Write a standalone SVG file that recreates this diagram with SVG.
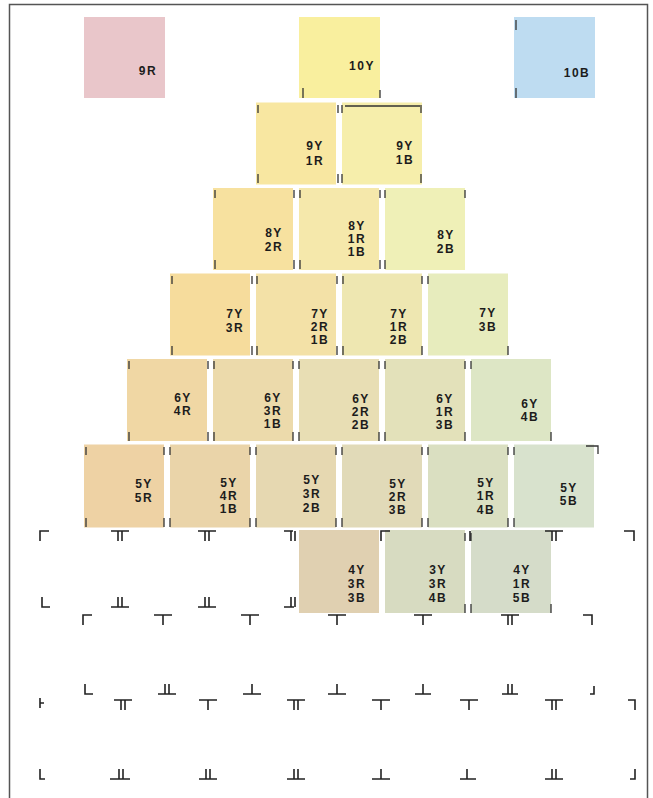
<svg xmlns="http://www.w3.org/2000/svg" width="653" height="798" viewBox="0 0 653 798">
<style>
.sw{stroke:none}
.lb{font-family:"Liberation Sans",Arial,sans-serif;font-weight:bold;font-size:12px;fill:#1c1c1c;text-anchor:middle;letter-spacing:1.5px}
.tk{stroke:#333;stroke-width:1.3;fill:none}
.mk{stroke:#222;stroke-width:1.6;fill:none}
.fr{fill:none;stroke:#555;stroke-width:1.5}
</style>
<rect width="653" height="798" fill="#ffffff"/>
<rect class="fr" x="9.5" y="4.5" width="638" height="820"/>

<!-- Row 0 -->
<g id="s-9R"><rect class="sw" x="84" y="17" width="81" height="81" fill="#e9c6ca"/><text class="lb" x="148" y="75">9R</text></g>
<g id="s-10Y"><rect class="sw" x="299" y="17" width="81" height="81" fill="#f9ef9e"/><text class="lb" x="362" y="70">10Y</text></g>
<g id="s-10B"><rect class="sw" x="514" y="17" width="81" height="81" fill="#bedcf1"/><text class="lb" x="577" y="77">10B</text></g>

<!-- Row 1 -->
<g id="s-9Y1R"><rect class="sw" x="256" y="102.5" width="80" height="82" fill="#f8e7a1"/><text class="lb" x="315" y="150">9Y</text><text class="lb" x="315" y="165">1R</text></g>
<g id="s-9Y1B"><rect class="sw" x="342" y="102.5" width="80" height="82" fill="#f6eeab"/><text class="lb" x="405" y="150">9Y</text><text class="lb" x="405" y="164">1B</text></g>

<!-- Row 2 -->
<g id="s-8Y2R"><rect class="sw" x="213" y="188" width="80" height="82" fill="#f7e19f"/><text class="lb" x="274" y="237">8Y</text><text class="lb" x="274" y="251">2R</text></g>
<g id="s-8Y1R1B"><rect class="sw" x="299" y="188" width="80" height="82" fill="#f5e8ab"/><text class="lb" x="357" y="230">8Y</text><text class="lb" x="357" y="243">1R</text><text class="lb" x="357" y="256">1B</text></g>
<g id="s-8Y2B"><rect class="sw" x="385" y="188" width="80" height="82" fill="#eff0b7"/><text class="lb" x="446" y="239">8Y</text><text class="lb" x="446" y="253">2B</text></g>

<!-- Row 3 -->
<g id="s-7Y3R"><rect class="sw" x="170" y="273.5" width="80" height="82" fill="#f6dc9c"/><text class="lb" x="235" y="318">7Y</text><text class="lb" x="235" y="332">3R</text></g>
<g id="s-7Y2R1B"><rect class="sw" x="256" y="273.5" width="80" height="82" fill="#f3e1a7"/><text class="lb" x="320" y="318">7Y</text><text class="lb" x="320" y="331">2R</text><text class="lb" x="320" y="344">1B</text></g>
<g id="s-7Y1R2B"><rect class="sw" x="342" y="273.5" width="80" height="82" fill="#eee7b1"/><text class="lb" x="399" y="318">7Y</text><text class="lb" x="399" y="331">1R</text><text class="lb" x="399" y="344">2B</text></g>
<g id="s-7Y3B"><rect class="sw" x="428" y="273.5" width="80" height="82" fill="#e7ecbd"/><text class="lb" x="488" y="317">7Y</text><text class="lb" x="488" y="331">3B</text></g>

<!-- Row 4 -->
<g id="s-6Y4R"><rect class="sw" x="127" y="359" width="80" height="82" fill="#f0d7a4"/><text class="lb" x="183" y="402">6Y</text><text class="lb" x="183" y="415">4R</text></g>
<g id="s-6Y3R1B"><rect class="sw" x="213" y="359" width="80" height="82" fill="#ecdaab"/><text class="lb" x="273" y="402">6Y</text><text class="lb" x="273" y="415">3R</text><text class="lb" x="273" y="428">1B</text></g>
<g id="s-6Y2R2B"><rect class="sw" x="299" y="359" width="80" height="82" fill="#e8deb4"/><text class="lb" x="361" y="403">6Y</text><text class="lb" x="361" y="416">2R</text><text class="lb" x="361" y="429">2B</text></g>
<g id="s-6Y1R3B"><rect class="sw" x="385" y="359" width="80" height="82" fill="#e3e1ba"/><text class="lb" x="445" y="403">6Y</text><text class="lb" x="445" y="416">1R</text><text class="lb" x="445" y="429">3B</text></g>
<g id="s-6Y4B"><rect class="sw" x="471" y="359" width="80" height="82" fill="#dde6c5"/><text class="lb" x="530" y="408">6Y</text><text class="lb" x="530" y="421">4B</text></g>

<!-- Row 5 -->
<g id="s-5Y5R"><rect class="sw" x="84" y="444.5" width="80" height="83" fill="#eed2a4"/><text class="lb" x="144" y="488">5Y</text><text class="lb" x="144" y="502">5R</text></g>
<g id="s-5Y4R1B"><rect class="sw" x="170" y="444.5" width="80" height="83" fill="#ead4a9"/><text class="lb" x="229" y="487">5Y</text><text class="lb" x="229" y="500">4R</text><text class="lb" x="229" y="513">1B</text></g>
<g id="s-5Y3R2B"><rect class="sw" x="256" y="444.5" width="80" height="83" fill="#e6d8b1"/><text class="lb" x="312" y="484">5Y</text><text class="lb" x="312" y="498">3R</text><text class="lb" x="312" y="512">2B</text></g>
<g id="s-5Y2R3B"><rect class="sw" x="342" y="444.5" width="80" height="83" fill="#e1dab8"/><text class="lb" x="398" y="488">5Y</text><text class="lb" x="398" y="501">2R</text><text class="lb" x="398" y="514">3B</text></g>
<g id="s-5Y1R4B"><rect class="sw" x="428" y="444.5" width="80" height="83" fill="#dadfc1"/><text class="lb" x="486" y="487">5Y</text><text class="lb" x="486" y="500">1R</text><text class="lb" x="486" y="514">4B</text></g>
<g id="s-5Y5B"><rect class="sw" x="514" y="444.5" width="80" height="83" fill="#d8e2cd"/><text class="lb" x="569" y="492">5Y</text><text class="lb" x="569" y="505">5B</text></g>

<!-- Row 6 -->
<g id="s-4Y3R3B"><rect class="sw" x="299" y="530" width="80" height="83" fill="#e0d0b1"/><text class="lb" x="357" y="574">4Y</text><text class="lb" x="357" y="588">3R</text><text class="lb" x="357" y="602">3B</text></g>
<g id="s-3Y3R4B"><rect class="sw" x="385" y="530" width="80" height="83" fill="#d7dbc1"/><text class="lb" x="438" y="574">3Y</text><text class="lb" x="438" y="588">3R</text><text class="lb" x="438" y="602">4B</text></g>
<g id="s-4Y1R5B"><rect class="sw" x="471" y="530" width="80" height="83" fill="#d5dcc9"/><text class="lb" x="522" y="574">4Y</text><text class="lb" x="522" y="588">1R</text><text class="lb" x="522" y="602">5B</text></g>

<!-- swatch edge ticks -->
<g id="ticks" class="tk">
<path d="M303 88v10M380 90v8M516 20v10M516 88v10M345 106h75"/>
<path d="M258 105v8M258 174v9M338 105v8M338 174v9M342 105v8M342 174v9M421 105v8M421 174v9"/>
<path d="M215 190v8M215 260v9M294 190v8M294 260v9M300 190v8M300 260v9M380 190v8M380 260v9M385 190v8M385 260v9M465 190v8"/>
<path d="M172 276v8M172 346v9M252 276v8M252 346v9M257 276v8M257 346v9M337 276v8M337 346v9M343 276v8M343 346v9M422 276v8M422 346v9M428 276v8M508 346v9"/>
<path d="M129 361v8M129 432v9M208 361v8M208 432v9M214 361v8M214 432v9M293 361v8M293 432v9M299 361v8M299 432v9M379 361v8M379 432v9M385 361v8M385 432v9M465 361v8M465 432v9M471 361v8M551 432v9"/>
<path d="M86 447v8M86 518v9M164 447v8M164 518v9M170 447v8M170 518v9M250 447v8M250 518v9M256 447v8M256 518v9M336 447v8M336 518v9M342 447v8M342 518v9M422 447v8M422 518v9M428 447v8M428 518v9M508 447v8M508 518v9M514 447v8M514 518v9M586 446h12v8"/>
<path d="M465 533v8M465 604v9M471 533v8M471 604v9M551 604v9"/>
</g>

<!-- crop marks -->
<g id="marks" class="mk">
<path d="M40 541v-10h9"/>
<path d="M111 531h18M118 531v10M122 531v10"/>
<path d="M198 531h18M205 531v10M209 531v10"/>
<path d="M284 531h9M291 531v10M295 531v10"/>
<path d="M381 541v-10h9"/>
<path d="M470 531v10"/>
<path d="M545 531h18M552 531v10M556 531v10"/>
<path d="M624 531h10v10"/>
<path d="M42 597v10h8"/>
<path d="M111 607h18M118 597v10M122 597v10"/>
<path d="M198 607h18M205 597v10M209 597v10"/>
<path d="M284 607h10M291 597v10M295 597v10"/>
<path d="M83 625v-10h9"/>
<path d="M154 615h18M163 615v10"/>
<path d="M241 615h18M250 615v10"/>
<path d="M328 615h18M337 615v10"/>
<path d="M414 615h18M423 615v10"/>
<path d="M501 615h18M508 615v10M512 615v10"/>
<path d="M583 615h9v10"/>
<path d="M85 684v10h8"/>
<path d="M158 694h18M165 684v10M169 684v10"/>
<path d="M243 694h18M252 684v10"/>
<path d="M328 694h18M337 684v10"/>
<path d="M415 694h16M423 684v10"/>
<path d="M502 694h16M508 684v10M512 684v10"/>
<path d="M590 694h4v-8"/>
<path d="M40 708v-10M40 703h4"/>
<path d="M114 700h18M121 700v10M125 700v10"/>
<path d="M199 700h18M208 700v10"/>
<path d="M287 700h18M294 700v10M298 700v10"/>
<path d="M372 700h18M381 700v10"/>
<path d="M460 700h18M469 700v10"/>
<path d="M545 700h18M552 700v10M556 700v10"/>
<path d="M628 700h7v10"/>
<path d="M40 769v10h5"/>
<path d="M110 779h20M119 769v10M123 769v10"/>
<path d="M199 779h18M206 769v10M210 769v10"/>
<path d="M287 779h18M294 769v10M298 769v10"/>
<path d="M372 779h18M381 769v10"/>
<path d="M460 779h16M467 769v10"/>
<path d="M545 779h18M552 769v10M556 769v10"/>
<path d="M630 779h5v-10"/>
</g>
</svg>
